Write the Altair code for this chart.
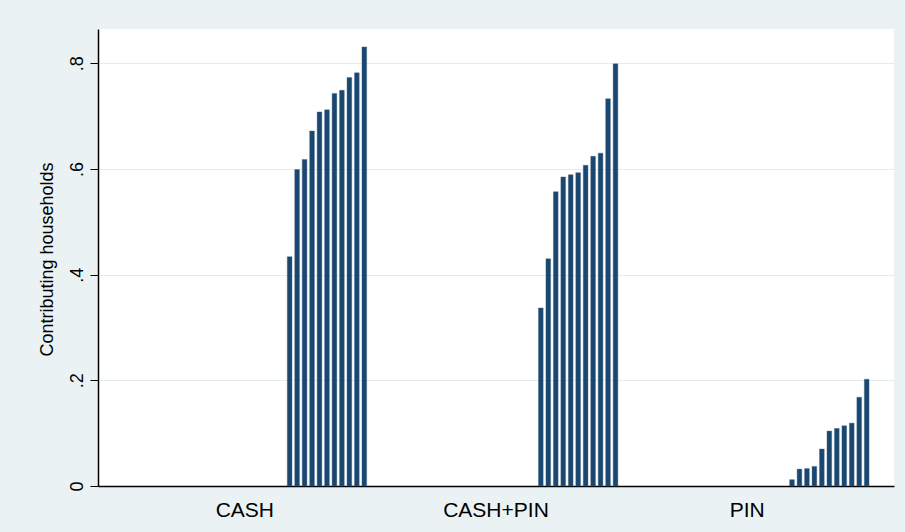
import altair as alt
import pandas as pd

# Payment groups shown along the x axis
groups = ["CASH", "CASH+PIN", "PIN"]

# Share of contributing households, eleven bars per group (sorted ascending)
cash = [0.434, 0.599, 0.618, 0.672, 0.708, 0.712, 0.743, 0.749, 0.773, 0.782, 0.831]
cash_pin = [0.337, 0.430, 0.557, 0.585, 0.589, 0.593, 0.607, 0.624, 0.630, 0.733, 0.799]
pin = [0.012, 0.032, 0.033, 0.037, 0.070, 0.104, 0.109, 0.114, 0.119, 0.168, 0.202]

# Each group reserves 33 bar positions; the plotted bars fill the last eleven
n_slots = 33
first_slot = 22

y_ticks = [0, 0.2, 0.4, 0.6, 0.8]

rows = []
for g, vals in zip(groups, [cash, cash_pin, pin]):
    for i, v in enumerate(vals):
        rows.append({"group": g, "slot": first_slot + i, "share": v})
df = pd.DataFrame(rows)

NAVY = "#1A476F"
BG = "#EAF2F3"
FONT = "Liberation Sans"

bars = (
    alt.Chart(df)
    .mark_bar(color=NAVY, stroke="#3F6688", strokeWidth=0.4)
    .encode(
        x=alt.X(
            "group:N",
            sort=groups,
            scale=alt.Scale(paddingInner=0, paddingOuter=0.0845),
            axis=alt.Axis(
                title=None,
                labelAngle=0,
                ticks=False,
                tickSize=0,
                labelPadding=30,
                labelBaseline="alphabetic",
                labelFontSize=21,
                labelFont=FONT,
                labelColor="#000000",
                domainColor="#000000",
                domainWidth=1.5,
                grid=False,
            ),
        ),
        xOffset=alt.XOffset(
            "slot:O",
            scale=alt.Scale(domain=list(range(n_slots)), paddingInner=0.37, paddingOuter=0.5),
        ),
        y=alt.Y(
            "share:Q",
            scale=alt.Scale(domain=[0, 0.865], nice=False, zero=True),
            axis=alt.Axis(
                title="Contributing households",
                titleFont=FONT,
                titleFontSize=18,
                titleFontWeight="normal",
                titleColor="#000000",
                titleAngle=270,
                titleBaseline="alphabetic",
                titleAlign="center",
                titleX=-46,
                titleY=230,
                values=y_ticks,
                labelExpr="datum.value == 0 ? '0' : replace(format(datum.value, '.1f'), '0.', '.')",
                labelAngle=270,
                labelAlign="center",
                labelBaseline="bottom",
                labelPadding=4,
                labelFont=FONT,
                labelFontSize=18,
                labelColor="#000000",
                tickSize=8,
                tickColor="#000000",
                tickWidth=1,
                domainColor="#000000",
                domainWidth=1.5,
                grid=True,
                gridColor="#E3ECEE",
                gridWidth=1.2,
            ),
        ),
    )
)

chart = (
    bars.properties(
        width=796,
        height=457,
        autosize=alt.AutoSizeParams(type="none"),
        padding={"left": 98, "top": 29, "right": 11, "bottom": 46},
        background=BG,
    )
    .configure_view(fill="#FFFFFF", stroke=None)
)

chart.save("out.html", embed_options={"renderer": "svg", "actions": False})
